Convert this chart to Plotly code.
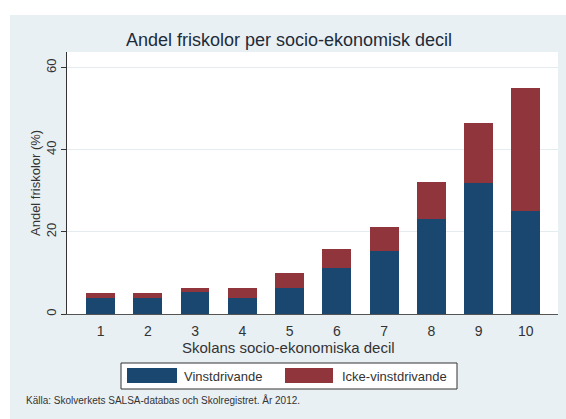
import plotly.graph_objects as go

# ---- data ----
deciles = [1, 2, 3, 4, 5, 6, 7, 8, 9, 10]
vinst = [4.0, 3.9, 5.3, 4.0, 6.3, 11.3, 15.3, 23.2, 31.9, 25.0]
total = [5.0, 5.0, 6.3, 6.3, 10.0, 15.8, 21.1, 32.1, 46.5, 55.0]
icke = [round(t - v, 2) for t, v in zip(total, vinst)]
y_ticks = [0, 20, 40, 60]

title_text = "Andel friskolor per socio-ekonomisk decil"
x_title = "Skolans socio-ekonomiska decil"
y_title = "Andel friskolor (%)"
names = ["Vinstdrivande", "Icke-vinstdrivande"]
source = "Källa: Skolverkets SALSA-databas och Skolregistret. År 2012."

# ---- style ----
W, H = 566, 419
L, R, T, B = 67, 8, 52, 105
PW, PH = W - L - R, H - T - B
BLUE = "#1a476f"
RED = "#90353b"
BG = "#e9f0f3"
GRID = "#e4ecef"
FONT = "Liberation Sans, Arial, sans-serif"


def px(x):
    return (x - L) / PW


def py(y):
    return (H - B - y) / PH


fig = go.Figure()
fig.add_trace(go.Bar(x=deciles, y=vinst, name=names[0], marker_color=BLUE,
                     marker_line_width=0, showlegend=False))
fig.add_trace(go.Bar(x=deciles, y=icke, name=names[1], marker_color=RED,
                     marker_line_width=0, showlegend=False))

shapes = [
    # white outer strips (screenshot margin)
    dict(type="rect", xref="paper", yref="paper", x0=px(-5), x1=px(W + 5),
         y0=py(15), y1=py(-5), fillcolor="white", line_width=0, layer="above"),
    dict(type="rect", xref="paper", yref="paper", x0=px(-5), x1=px(10),
         y0=py(H + 5), y1=py(-5), fillcolor="white", line_width=0, layer="above"),
    # legend box
    dict(type="rect", xref="paper", yref="paper", x0=px(121), x1=px(457),
         y0=py(389), y1=py(363), fillcolor="white",
         line=dict(color="#333333", width=1), layer="above"),
    dict(type="rect", xref="paper", yref="paper", x0=px(127), x1=px(177),
         y0=py(383), y1=py(368), fillcolor=BLUE, line_width=0, layer="above"),
    dict(type="rect", xref="paper", yref="paper", x0=px(285), x1=px(333),
         y0=py(383), y1=py(368), fillcolor=RED, line_width=0, layer="above"),
]

annotations = [
    dict(text=x_title, xref="paper", yref="paper", x=px(288.5), y=py(347),
         xanchor="center", yanchor="middle", showarrow=False,
         font=dict(size=15, color="#333333", family=FONT)),
    dict(text=y_title, xref="paper", yref="paper", x=px(35), y=py(183),
         xanchor="center", yanchor="middle", textangle=-90, showarrow=False,
         font=dict(size=13, color="#333333", family=FONT)),
    dict(text=names[0], xref="paper", yref="paper", x=px(182), y=py(376),
         xanchor="left", yanchor="middle", showarrow=False,
         font=dict(size=13, color="#333333", family=FONT)),
    dict(text=names[1], xref="paper", yref="paper", x=px(340), y=py(376),
         xanchor="left", yanchor="middle", showarrow=False,
         font=dict(size=13, color="#333333", family=FONT)),
    dict(text=source, xref="paper", yref="paper", x=px(24), y=py(400),
         xanchor="left", yanchor="middle", showarrow=False,
         font=dict(size=10, color="#333333", family=FONT)),
]

fig.update_layout(
    width=W, height=H,
    margin=dict(l=L, r=R, t=T, b=B, pad=0),
    paper_bgcolor=BG, plot_bgcolor="white",
    barmode="stack", bargap=0.39,
    title=dict(text=title_text, xref="container", yref="container",
               x=289 / W, y=1 - 40 / H, xanchor="center", yanchor="middle",
               font=dict(size=18, color="#1e2b3a", family=FONT)),
    font=dict(family=FONT, color="#333333"),
    shapes=shapes, annotations=annotations,
    showlegend=False,
)
fig.update_xaxes(range=[0.29, 10.68], tickmode="array", tickvals=deciles,
                 ticktext=[str(d) for d in deciles], showgrid=False,
                 showline=True, linecolor="#555555", linewidth=1,
                 ticks="outside", ticklen=4, tickcolor="rgba(0,0,0,0)",
                 tickfont=dict(size=14, color="#333333"), zeroline=False,
                 fixedrange=True)
fig.update_yaxes(range=[0, 63.8], tickmode="array", tickvals=y_ticks,
                 showgrid=True, gridcolor=GRID, gridwidth=1,
                 showline=True, linecolor="#333333", linewidth=1,
                 ticks="outside", ticklen=5, tickcolor="#333333",
                 tickangle=-90, tickfont=dict(size=13, color="#333333"),
                 zeroline=False, fixedrange=True)

fig.write_html(
    "out.html",
    config={"displayModeBar": False},
    post_script="document.body.style.margin='0';"
                "document.body.style.overflow='hidden';",
)
